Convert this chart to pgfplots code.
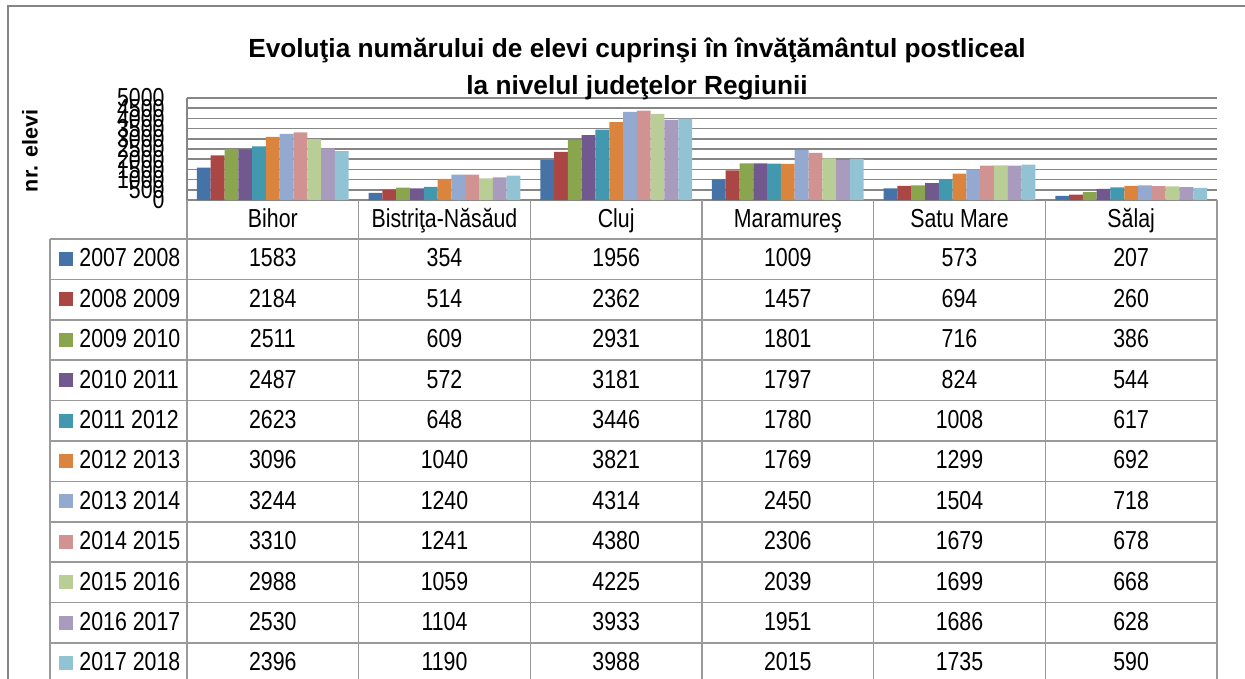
\documentclass[border=0pt]{standalone}
\usepackage{pgfplots}
\pgfplotsset{compat=1.18}
\usepackage{pgfplotstable}
\usepackage{fontspec}
\setmainfont{Liberation Sans}
\newfontfamily\narrow[FakeStretch=0.82]{Liberation Sans}
\definecolor{c1}{HTML}{4572A7}
\definecolor{c2}{HTML}{AA4643}
\definecolor{c3}{HTML}{89A54E}
\definecolor{c4}{HTML}{71588F}
\definecolor{c5}{HTML}{4198AF}
\definecolor{c6}{HTML}{DB843D}
\definecolor{c7}{HTML}{93A9CF}
\definecolor{c8}{HTML}{D19392}
\definecolor{c9}{HTML}{B9CD96}
\definecolor{c10}{HTML}{A99BBD}
\definecolor{c11}{HTML}{92C3D4}
\definecolor{gridc}{HTML}{868686}
\definecolor{tabc}{HTML}{9A9A9A}
\definecolor{framec}{HTML}{858585}

\pgfplotstableread{
idx s1 s2 s3 s4 s5 s6 s7 s8 s9 s10 s11
0 1583 2184 2511 2487 2623 3096 3244 3310 2988 2530 2396
1 354 514 609 572 648 1040 1240 1241 1059 1104 1190
2 1956 2362 2931 3181 3446 3821 4314 4380 4225 3933 3988
3 1009 1457 1801 1797 1780 1769 2450 2306 2039 1951 2015
4 573 694 716 824 1008 1299 1504 1679 1699 1686 1735
5 207 260 386 544 617 692 718 678 668 628 590
}\data

\newcommand\tabfont{\narrow\fontsize{10.4pt}{12pt}\selectfont}

\begin{document}
\begin{tikzpicture}
\useasboundingbox (0,0) rectangle (498pt,271.2pt);
\begin{axis}[at={(74.8pt,191.2pt)}, anchor=south west, scale only axis,
  width=412pt, height=40.8pt,
  xmin=-0.5, xmax=5.5, ymin=0, ymax=5000,
  xtick=\empty, ytick={0,500,...,5000},
  ybar=0pt, bar width=5.52pt,
  axis x line*=bottom, axis y line*=left,
  axis line style={-, draw=gridc, line width=0.6pt},
  ymajorgrids, grid style={draw=gridc, line width=0.6pt},
  major tick length=0pt, tick style={draw=none},
  yticklabel style={font=\tabfont, anchor=east, inner sep=0pt, xshift=-8.8pt},
  /pgf/number format/assume math mode=true,
  /pgf/number format/1000 sep={},
  clip=false]
\pgfplotsinvokeforeach{1,...,11}{
  \addplot[fill=c#1, draw=none] table[x=idx, y=s#1] {\data};
}
\end{axis}
\begin{scope}[x=0.4pt, y=-0.4pt, yshift=271.2pt]
  % outer frame
  \draw[framec, line width=0.8pt] (8,700) -- (8,6) -- (1260,6);
  % title
  \node[anchor=base, inner sep=0pt, font=\bfseries\fontsize{10.5pt}{12pt}\selectfont] at (637,58)
    {Evoluţia numărului de elevi cuprinşi în învăţământul postliceal};
  \node[anchor=base, inner sep=0pt, font=\bfseries\fontsize{10.5pt}{12pt}\selectfont] at (637,95)
    {la nivelul judeţelor Regiunii};
  % y label
  \node[rotate=90, inner sep=0pt, font=\bfseries\fontsize{8.6pt}{10pt}\selectfont] at (30,151) {nr. elevi};
  % table grid
  \foreach \k in {0,...,11}
    \draw[tabc, line width=0.6pt] (50,{239+40.4*\k}) -- (1217,{239+40.4*\k});
  \foreach \k in {0,...,6}
    \draw[tabc, line width=0.6pt] ({187+171.667*\k},200) -- ({187+171.667*\k},700);
  \draw[tabc, line width=0.6pt] (50,239) -- (50,700);
  % header
  \foreach \name [count=\i from 0] in {Bihor,Bistriţa-Năsăud,Cluj,Maramureş,Satu Mare,Sălaj}
    \node[anchor=base, inner sep=0pt, font=\tabfont] at ({187+171.667*(\i+0.5)},228) {\name};
  % legend + values
  \foreach \lab [count=\j from 1] in {2007 2008,2008 2009,2009 2010,2010 2011,2011 2012,2012 2013,2013 2014,2014 2015,2015 2016,2016 2017,2017 2018} {
    \fill[c\j] (59,{239+40.4*(\j-1)+13}) rectangle (73,{239+40.4*(\j-1)+27});
    \node[anchor=base west, inner sep=0pt, font=\tabfont] at (79,{239+40.4*(\j-1)+28}) {\lab};
    \foreach \i in {0,...,5} {
      \pgfplotstablegetelem{\i}{s\j}\of\data
      \node[anchor=base, inner sep=0pt, font=\tabfont] at ({187+171.667*(\i+0.5)},{239+40.4*(\j-1)+28}) {\pgfplotsretval};
    }
  }
\end{scope}
\end{tikzpicture}
\end{document}
